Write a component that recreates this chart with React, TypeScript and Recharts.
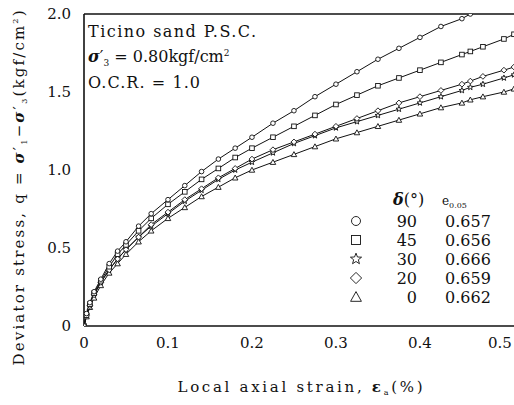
import { LineChart, Line, XAxis, YAxis, ReferenceLine } from "recharts";

// local axial strain (%)
const strains = [
  0, 0.003, 0.007, 0.012, 0.02, 0.03, 0.04, 0.05, 0.065, 0.08, 0.1, 0.12, 0.14, 0.16, 0.18, 0.2,
  0.225, 0.25, 0.275, 0.3, 0.325, 0.35, 0.375, 0.4, 0.425, 0.45, 0.46, 0.475, 0.5, 0.512,
];

// deviator stress q (kgf/cm2), one list per bedding angle
const delta90 = [
  0, 0.08, 0.15, 0.22, 0.3, 0.4, 0.48, 0.54, 0.64, 0.72, 0.81, 0.9, 0.99, 1.07, 1.14, 1.21,
  1.3, 1.38, 1.47, 1.55, 1.63, 1.71, 1.78, 1.85, 1.92, 1.97, 2.0, null, null, null,
];
const delta45 = [
  0, 0.07, 0.14, 0.21, 0.29, 0.38, 0.46, 0.52, 0.61, 0.69, 0.78, 0.86, 0.94, 1.01, 1.08, 1.14,
  1.21, 1.28, 1.35, 1.42, 1.48, 1.54, 1.59, 1.64, 1.69, 1.74, 1.76, 1.79, 1.84, 1.87,
];
const delta30 = [
  0, 0.07, 0.13, 0.2, 0.28, 0.36, 0.43, 0.49, 0.57, 0.64, 0.72, 0.8, 0.87, 0.94, 1.0, 1.05,
  1.11, 1.17, 1.22, 1.27, 1.31, 1.35, 1.39, 1.43, 1.47, 1.51, 1.53, 1.55, 1.59, 1.61,
];
const delta20 = [
  0, 0.07, 0.13, 0.2, 0.28, 0.36, 0.43, 0.49, 0.57, 0.65, 0.73, 0.81, 0.88, 0.95, 1.01, 1.07,
  1.13, 1.18, 1.23, 1.28, 1.33, 1.38, 1.43, 1.47, 1.51, 1.55, 1.57, 1.6, 1.64, 1.66,
];
const delta0 = [
  0, 0.06, 0.12, 0.18, 0.26, 0.34, 0.4, 0.46, 0.54, 0.61, 0.69, 0.76, 0.83, 0.89, 0.95, 1.0,
  1.05, 1.1, 1.15, 1.2, 1.24, 1.28, 1.32, 1.36, 1.4, 1.43, 1.45, 1.47, 1.5, 1.52,
];

const xTicks = [0, 0.1, 0.2, 0.3, 0.4, 0.5];
const yTicks = [0, 0.5, 1.0, 1.5, 2.0];

const legendRows = [
  { key: "d90", kind: "circle", delta: "90", e: "0.657" },
  { key: "d45", kind: "square", delta: "45", e: "0.656" },
  { key: "d30", kind: "star", delta: "30", e: "0.666" },
  { key: "d20", kind: "diamond", delta: "20", e: "0.659" },
  { key: "d0", kind: "triangle", delta: "0", e: "0.662" },
];

const data = strains.map((s, i) => ({
  s,
  d90: delta90[i],
  d45: delta45[i],
  d30: delta30[i],
  d20: delta20[i],
  d0: delta0[i],
}));

const FONT = "DejaVu Serif";
const INK = "#111";
const serif = { fontFamily: FONT };

const Marker = ({ kind, x, y, r = 2.3 }: { kind: string; x: number; y: number; r?: number }) => {
  const common = { fill: "#fff", stroke: INK, strokeWidth: 0.9 };
  if (kind === "circle") return <circle cx={x} cy={y} r={r} {...common} />;
  if (kind === "square") return <rect x={x - r} y={y - r} width={2 * r} height={2 * r} {...common} />;
  if (kind === "diamond") {
    const d = r * 1.25;
    return <polygon points={`${x},${y - d} ${x + d},${y} ${x},${y + d} ${x - d},${y}`} {...common} />;
  }
  if (kind === "triangle") {
    const d = r * 1.2;
    return <polygon points={`${x},${y - d} ${x + d},${y + d * 0.8} ${x - d},${y + d * 0.8}`} {...common} />;
  }
  // star
  const pts: string[] = [];
  for (let k = 0; k < 10; k++) {
    const rad = k % 2 === 0 ? r * 1.3 : r * 0.55;
    const a = -Math.PI / 2 + (k * Math.PI) / 5;
    pts.push(`${x + rad * Math.cos(a)},${y + rad * Math.sin(a)}`);
  }
  return <polygon points={pts.join(" ")} {...common} />;
};

const dotFor = (kind: string) => (props: any) => {
  const { cx, cy, index } = props;
  if (cx == null || cy == null || props.value == null) return <g key={`${kind}-${index}`} />;
  return <Marker key={`${kind}-${index}`} kind={kind} x={cx} y={cy} />;
};

// last label sits against the right edge of the page, keep it inside
const XTick = ({ x, y, payload }: any) => (
  <text x={Math.min(x, 500)} y={y + 20} textAnchor="middle" style={serif} fontSize={15} fill={INK}>
    {payload.value === 0 ? "0" : payload.value.toFixed(1)}
  </text>
);

const YTick = ({ x, y, payload }: any) => (
  <text x={x - 11} y={y + 5} textAnchor="end" style={serif} fontSize={15} fill={INK}>
    {payload.value === 0 ? "0" : payload.value.toFixed(1)}
  </text>
);

export default function App() {
  return (
    <div style={{ position: "absolute", left: 0, top: 0, width: 514, height: 405, background: "#fff" }}>
      <LineChart width={514} height={405} data={data} margin={{ top: 14, right: 0, bottom: 49, left: 0 }}>
        <XAxis
          dataKey="s"
          type="number"
          domain={[0, 0.512]}
          ticks={xTicks}
          tick={<XTick />}
          tickLine={false}
          tickSize={0}
          height={30}
          axisLine={{ stroke: INK, strokeWidth: 1.6 }}
          allowDataOverflow
        />
        <YAxis
          type="number"
          domain={[0, 2]}
          ticks={yTicks}
          tick={<YTick />}
          tickLine={false}
          tickSize={0}
          width={84}
          axisLine={{ stroke: INK, strokeWidth: 1.6 }}
          allowDataOverflow
        />
        <ReferenceLine y={2} stroke={INK} strokeWidth={1.6} ifOverflow="extendDomain" />
        <Line dataKey="d0" stroke={INK} strokeWidth={1} dot={dotFor("triangle")} isAnimationActive={false} />
        <Line dataKey="d30" stroke={INK} strokeWidth={1} dot={dotFor("star")} isAnimationActive={false} />
        <Line dataKey="d20" stroke={INK} strokeWidth={1} dot={dotFor("diamond")} isAnimationActive={false} />
        <Line dataKey="d45" stroke={INK} strokeWidth={1} dot={dotFor("square")} isAnimationActive={false} />
        <Line dataKey="d90" stroke={INK} strokeWidth={1} dot={dotFor("circle")} isAnimationActive={false} />
      </LineChart>

      <svg
        width={514}
        height={405}
        style={{ position: "absolute", left: 0, top: 0, pointerEvents: "none", fontFamily: FONT }}
        fill={INK}
      >
        {/* test conditions */}
        <text x={88} y={37} fontSize={16} textLength={168} lengthAdjust="spacing">
          Ticino sand P.S.C.
        </text>
        <text x={88} y={62} fontSize={16}>
          <tspan fontWeight="bold" fontStyle="italic">σ</tspan>
          <tspan>′</tspan>
          <tspan fontSize={9} dy={4}>3</tspan>
          <tspan dy={-4}> = 0.80kgf/cm</tspan>
          <tspan fontSize={9} dy={-6}>2</tspan>
        </text>
        <text x={88} y={88} fontSize={16} textLength={112} lengthAdjust="spacing">
          O.C.R. = 1.0
        </text>

        {/* legend table */}
        <text x={393} y={205} fontSize={16}>
          <tspan fontWeight="bold" fontStyle="italic">δ</tspan>
          <tspan>(°)</tspan>
        </text>
        <text x={442} y={205} fontSize={12}>
          e<tspan fontSize={8} dy={3}>0.05</tspan>
        </text>
        {legendRows.map((r, i) => {
          const base = 227 + i * 19;
          return (
            <g key={r.key}>
              <Marker kind={r.kind} x={356} y={base - 6} r={4.5} />
              <text x={417} y={base} fontSize={16} textAnchor="end">
                {r.delta}
              </text>
              <text x={445} y={base} fontSize={16}>
                {r.e}
              </text>
            </g>
          );
        })}

        {/* axis titles */}
        <text x={300} y={392} fontSize={15} textAnchor="middle" textLength={245} lengthAdjust="spacing">
          <tspan>Local axial strain, </tspan>
          <tspan fontWeight="bold">ε</tspan>
          <tspan fontSize={8} dy={3}>a</tspan>
          <tspan dy={-3}>(%)</tspan>
        </text>
        <text
          transform="translate(24,188) rotate(-90)"
          fontSize={15}
          textAnchor="middle"
          textLength={355}
          lengthAdjust="spacing"
        >
          <tspan>Deviator stress, q = </tspan>
          <tspan fontWeight="bold" fontStyle="italic">σ</tspan>
          <tspan>′</tspan>
          <tspan fontSize={8} dy={3}>1</tspan>
          <tspan dy={-3}>−</tspan>
          <tspan fontWeight="bold" fontStyle="italic">σ</tspan>
          <tspan>′</tspan>
          <tspan fontSize={8} dy={3}>3</tspan>
          <tspan dy={-3}>(kgf/cm</tspan>
          <tspan fontSize={8} dy={-6}>2</tspan>
          <tspan dy={6}>)</tspan>
        </text>
      </svg>
    </div>
  );
}
